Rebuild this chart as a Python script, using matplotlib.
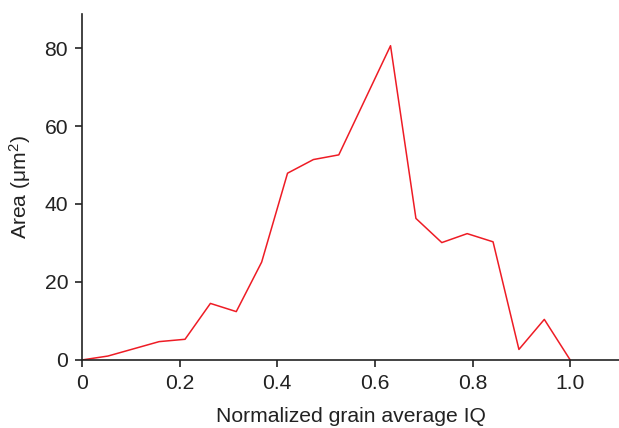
import matplotlib
matplotlib.use("Agg")
import matplotlib.pyplot as plt

plt.rcParams['font.family'] = ['Liberation Sans', 'DejaVu Sans']

# normalized grain average IQ (bin centres) and area
iq = [0.0, 0.053, 0.158, 0.211, 0.263, 0.316, 0.368, 0.421, 0.474, 0.526,
      0.632, 0.684, 0.737, 0.789, 0.842, 0.895, 0.947, 1.0]
area = [0.0, 1.0, 4.7, 5.3, 14.5, 12.4, 25.1, 47.9, 51.4, 52.6,
        80.6, 36.3, 30.1, 32.4, 30.3, 2.7, 10.4, 0.0]

xticks = [0, 0.2, 0.4, 0.6, 0.8, 1.0]
xticklabels = ['0', '0.2', '0.4', '0.6', '0.8', '1.0']
yticks = [0, 20, 40, 60, 80]

fig = plt.figure(figsize=(6.19, 4.28), dpi=100)
ax = fig.add_axes([0.1325, 0.159, 0.8675, 0.808])

ax.plot(iq, area, color='#ee1c25', lw=1.1)

ax.set_xlim(0, 1.1)
ax.set_ylim(0, 88.7)
ax.set_xticks(xticks)
ax.set_xticklabels(xticklabels)
ax.set_yticks(yticks)

for s in ['top', 'right']:
    ax.spines[s].set_visible(False)
for s in ['left', 'bottom']:
    ax.spines[s].set_linewidth(1.2)
    ax.spines[s].set_color('#222222')

ax.tick_params(direction='out', length=5, width=1.2, labelsize=15.2,
               colors='#222222', pad=5)
ax.set_xlabel('Normalized grain average IQ', fontsize=15.2, color='#222222', labelpad=10)
ax.set_ylabel(r'Area ($\mathregular{\mu m^2}$)', fontsize=15.2, color='#222222', labelpad=8)

fig.savefig('out.png', dpi=100)
